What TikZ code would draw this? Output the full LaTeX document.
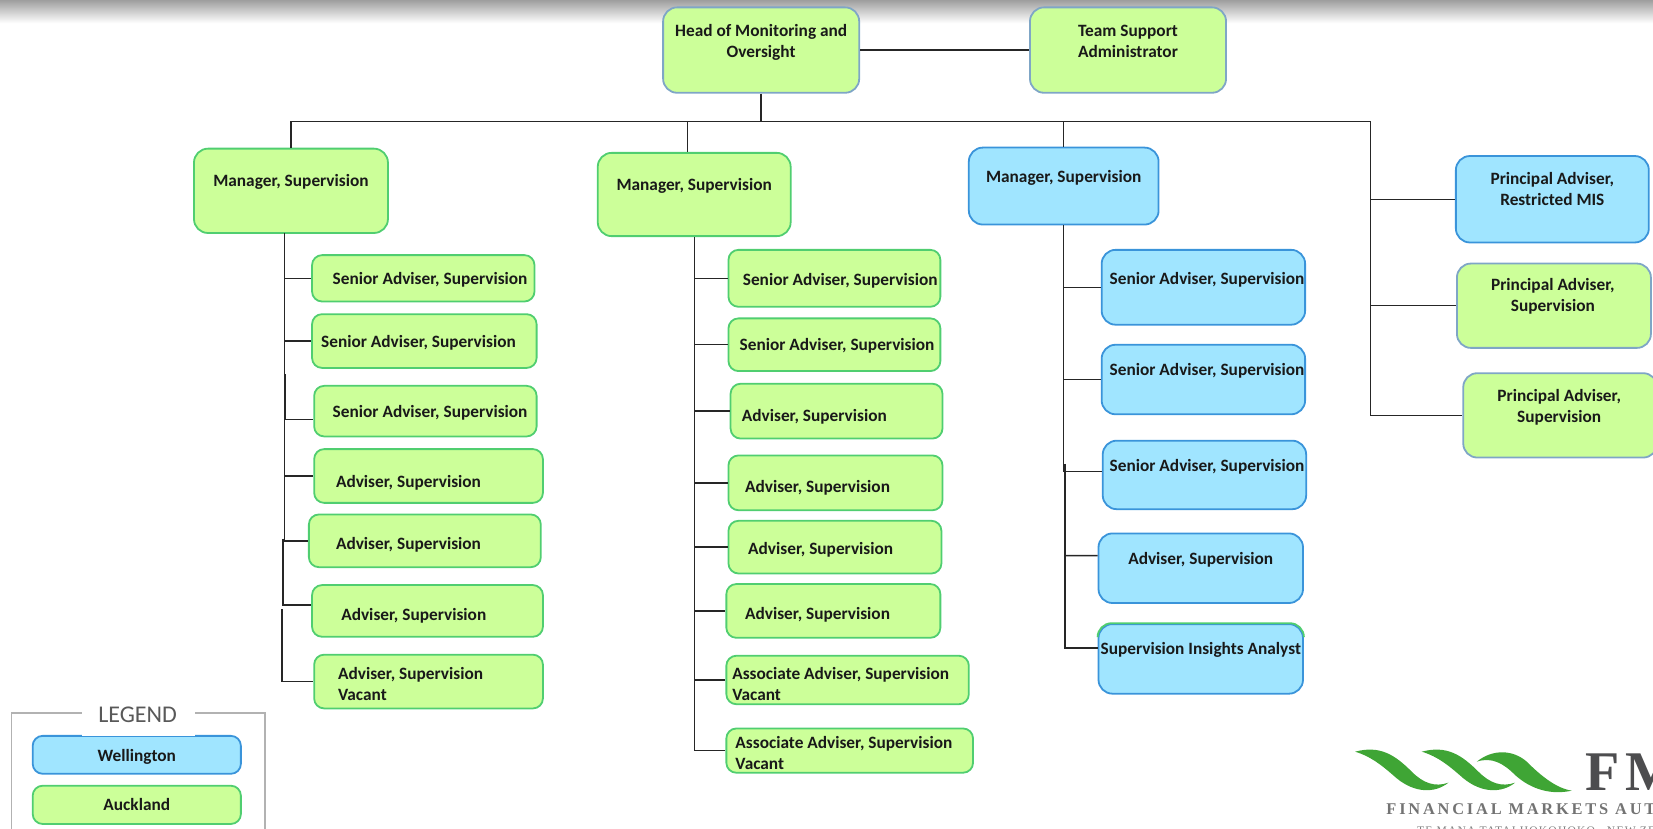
\documentclass[tikz,border=0pt]{standalone}
\usepackage{fontspec}
\setmainfont{Carlito}
\newfontfamily\logofont[LetterSpace=10]{Liberation Serif}
\newfontfamily\logowide[LetterSpace=17]{Liberation Serif}
\usetikzlibrary{fit}
\definecolor{aklfill}{HTML}{CCFF99}
\definecolor{aklline}{HTML}{50CE70}
\definecolor{welfill}{HTML}{A0E5FF}
\definecolor{welline}{HTML}{3A94DA}
\definecolor{topline}{HTML}{7FA6C6}
\definecolor{logogreen}{HTML}{3FA535}
\definecolor{logogrey}{HTML}{4D4D4F}
\newlength{\unitpx}
\setlength{\unitpx}{0.5271pt}
% text offset from the box centre: dx, dy (up) in picture units
\newcommand{\boxtext}[4][c]{\raisebox{\dimexpr#3\unitpx-0.8pt\relax}[0pt][0pt]{\makebox[0pt]{\hspace*{#2\unitpx}\hspace*{#2\unitpx}\begin{tabular}[t]{@{}#1@{}}#4\end{tabular}}}}

\begin{document}
\begin{tikzpicture}[
  x=0.5271pt, y=-0.5271pt,
  orgbox/.style={rectangle, draw, line width=0.9pt, rounded corners=7pt, inner sep=0pt,
    text=black!90, font=\fontsize{8.65}{10.3}\selectfont\bfseries},
  smallbox/.style={orgbox, rounded corners=5pt},
  akl/.style={fill=aklfill, draw=aklline},
  wel/.style={fill=welfill, draw=welline},
  top/.style={akl, draw=topline},
  conn/.style={draw=black!85, line width=0.7pt},
]
  \useasboundingbox (0,0) rectangle (1568,786.3);
  \shade[top color=black!38, bottom color=white] (0,0) rectangle (1568,22);

  % top row
  \node[orgbox, top, fit={(629,7) (815,88)}]  (head) {\boxtext{0}{14}{Head of Monitoring and\\Oversight}};
  \node[orgbox, top, fit={(977,7) (1163,88)}] (team) {\boxtext{0}{14}{Team Support\\Administrator}};

  % managers
  \node[orgbox, akl, fit={(184,141) (368,221)}] (mgra) {\boxtext{0}{5.5}{Manager, Supervision}};
  \node[orgbox, akl, fit={(567,145) (750,224)}] (mgrb) {\boxtext{0}{5}{Manager, Supervision}};
  \node[orgbox, wel, fit={(919,140) (1099,213)}] (mgrc) {\boxtext{0}{5}{Manager, Supervision}};

  % principal advisers
  \node[orgbox, wel, fit={(1381,148) (1564,230)}] (prina) {\boxtext{0}{15.5}{Principal Adviser,\\Restricted MIS}};
  \node[orgbox, top, fit={(1382,250) (1566,330)}] (prinb) {\boxtext{-1}{15.5}{Principal Adviser,\\Supervision}};
  \node[orgbox, top, fit={(1388,354) (1572,434)}] (princ) {\boxtext{-1}{14.5}{Principal Adviser,\\Supervision}};

  % first column
  \node[smallbox, akl, fit={(296,242) (507,286)}] (sena) {\boxtext{6.5}{-4.5}{Senior Adviser, Supervision}};
  \node[smallbox, akl, fit={(296,298) (509,349)}] (senb) {\boxtext{-5.5}{-5}{Senior Adviser, Supervision}};
  \node[smallbox, akl, fit={(298,366) (509,414)}] (senc) {\boxtext{4.5}{-4.5}{Senior Adviser, Supervision}};
  \node[smallbox, akl, fit={(298,426) (515,477)}] (adva) {\boxtext{-19}{-9}{Adviser, Supervision}};
  \node[smallbox, akl, fit={(293,488) (513,538)}] (advb) {\boxtext{-15.5}{-6.5}{Adviser, Supervision}};
  \node[smallbox, akl, fit={(296,555) (515,604)}] (advc) {\boxtext{-13}{-8}{Adviser, Supervision}};
  \node[smallbox, akl, fit={(298,621) (515,672)}] (advd) {\boxtext[l]{-17}{3}{Adviser, Supervision\\Vacant}};

  % second column
  \node[smallbox, akl, fit={(691,237) (892,291)}] (sene) {\boxtext{5.5}{-5.5}{Senior Adviser, Supervision}};
  \node[smallbox, akl, fit={(691,302) (892,352)}] (senf) {\boxtext{2.5}{-3.5}{Senior Adviser, Supervision}};
  \node[smallbox, akl, fit={(693,364) (894,416)}] (adve) {\boxtext{-21}{-8.5}{Adviser, Supervision}};
  \node[smallbox, akl, fit={(691,432) (894,484)}] (advf) {\boxtext{-17}{-7.5}{Adviser, Supervision}};
  \node[smallbox, akl, fit={(691,494) (893,544)}] (advg) {\boxtext{-13.5}{-5.5}{Adviser, Supervision}};
  \node[smallbox, akl, fit={(689,554) (892,605)}] (advh) {\boxtext{-15}{-7}{Adviser, Supervision}};
  \node[smallbox, akl, fit={(689,622) (919,668)}] (assa) {\boxtext[l]{-6.5}{1.5}{Associate Adviser, Supervision\\Vacant}};
  \node[smallbox, akl, fit={(689,691) (923,733)}] (assb) {\boxtext[l]{-5.5}{3.5}{Associate Adviser, Supervision\\Vacant}};

  % third column
  \node[orgbox, wel, fit={(1045,237) (1238,308)}] (seng) {\boxtext{3.5}{4}{Senior Adviser, Supervision}};
  \node[orgbox, wel, fit={(1045,327) (1238,393)}] (senh) {\boxtext{3.5}{5.5}{Senior Adviser, Supervision}};
  \node[orgbox, wel, fit={(1046,418) (1239,483)}] (seni) {\boxtext{2.5}{5}{Senior Adviser, Supervision}};
  \node[orgbox, wel, fit={(1042,506) (1236,572)}] (advi) {\boxtext{0}{5.5}{Adviser, Supervision}};
  \node[orgbox, wel, fit={(1042,592) (1236,658)}] (anal) {\boxtext{0}{5.5}{Supervision Insights Analyst}};
  \draw[aklline, line width=0.9pt, rounded corners=7pt]
    ([yshift=-7pt]anal.north west) |- (anal.north) -| ([yshift=-7pt]anal.north east);

  % connectors
  \coordinate (busright) at (1300,115);
  \coordinate (dropb) at (652,115);
  \draw[conn] (head) -- (team);
  \draw[conn] (head.south) -- (head.south |- busright);
  \draw[conn] (mgra.north) |- (busright) |- (princ.west);
  \draw[conn] (dropb) -- (dropb |- mgrb.north);
  \draw[conn] (mgrc.north) -- (mgrc.north |- busright);
  \draw[conn] (prina.west -| busright) -- (prina.west);
  \draw[conn] (prinb.west -| busright) -- (prinb.west);

  \coordinate (trunka) at (270,221);
  \coordinate (joga) at (268.6,511);
  \coordinate (jogb) at (267.5,578);
  \coordinate (doublea) at (271,355);
  \draw[conn] (trunka) |- (advb.west);
  \draw[conn] (trunka |- sena.west) -- (sena.west);
  \draw[conn] (trunka |- senb.west) -- (senb.west);
  \draw[conn] (doublea) |- ([yshift=-4.2pt]senc.west);
  \draw[conn] (trunka |- adva.west) -- (adva.west);
  \draw[conn] (joga) |- ([yshift=2.9pt]advc.west);
  \draw[conn] (jogb) |- (advd.west);

  \draw[conn] (mgrb.south) |- (assb.west);
  \draw[conn] (mgrb.south |- sene.west) -- (sene.west);
  \draw[conn] (mgrb.south |- senf.west) -- (senf.west);
  \draw[conn] (mgrb.south |- adve.west) -- (adve.west);
  \draw[conn] (mgrb.south |- advf.west) -- (advf.west);
  \draw[conn] (mgrb.south |- advg.west) -- (advg.west);
  \draw[conn] (mgrb.south |- advh.west) -- (advh.west);
  \draw[conn] (mgrb.south |- assa.west) -- (assa.west);

  \coordinate (trunkc) at (1010.3,440);
  \draw[conn] (mgrc.south) |- ([yshift=1.6pt]seni.west);
  \draw[conn] (mgrc.south |- seng.west) -- (seng.west);
  \draw[conn] (mgrc.south |- senh.west) -- (senh.west);
  \draw[conn] (trunkc) |- ([yshift=5.5pt]anal.west);
  \draw[conn] (trunkc |- advi.west) ++(0,-12) -- ([yshift=6.3pt]advi.west);

  % legend
  \draw[black!30, line width=0.7pt] (11,787) |- (251.5,676.5) -- (251.5,787);
  \node[smallbox, wel, fit={(31,698) (228.5,734)}]   (legwel) {\boxtext{0}{-4.5}{Wellington}};
  \node[smallbox, akl, fit={(31,745.3) (228.5,781.6)}] (legakl) {\boxtext{0}{-4}{Auckland}};
  \node[fill=white, inner sep=0pt, fit={(78,655) (185,698.6)}, text=black!65, font=\fontsize{12}{13}\selectfont] (legend) {\boxtext{-1}{-7}{LEGEND}};

  % logo
  \begin{scope}[shift={(1233.2,664)}, x=0.16667pt, y=-0.16667pt]
    \fill[logogreen] (165,155) .. controls (240,135) and (285,165) .. (335,215) .. controls (370,250) and (405,262) .. (445,248) .. controls (405,280) and (345,280) .. (290,235) .. controls (250,200) and (215,170) .. (165,155);
    \fill[logogreen] (365,155) .. controls (440,135) and (485,165) .. (535,215) .. controls (570,250) and (605,262) .. (645,248) .. controls (605,280) and (545,280) .. (490,235) .. controls (450,200) and (415,170) .. (365,155);
    \fill[logogreen] (530,185) .. controls (580,145) and (640,150) .. (680,185) .. controls (725,230) and (770,265) .. (815,272) .. controls (755,285) and (695,270) .. (645,225) .. controls (610,190) and (575,170) .. (530,185);
    \node[anchor=base west, inner sep=0pt, text=logogrey, font=\logofont\bfseries\fontsize{28}{30}\selectfont] (logofm) at (855,270) {FM};
    \node[anchor=base west, inner sep=0pt, text=black!55, font=\logowide\bfseries\fontsize{8.2}{9}\selectfont] (logoname) at (258,342) {FINANCIAL MARKETS AUTH};
    \node[anchor=base west, inner sep=0pt, text=black!50, font=\logofont\fontsize{5.8}{7}\selectfont] (logomaori) at (350,402) {TE MANA TATAI HOKOHOKO - NEW ZE};
  \end{scope}
\end{tikzpicture}
\end{document}
